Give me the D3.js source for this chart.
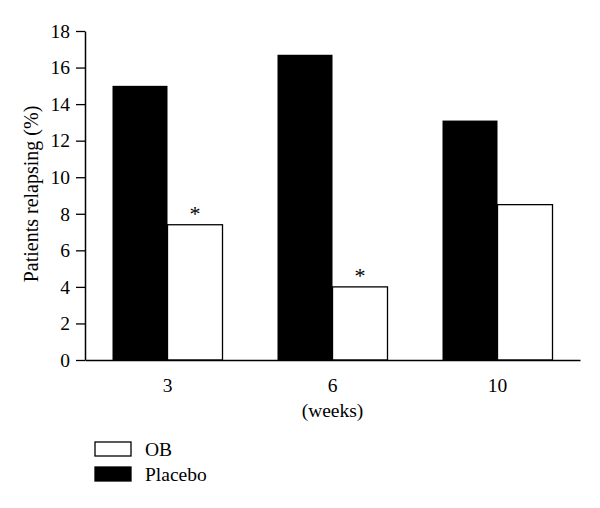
<!DOCTYPE html>
<html>
<head>
<meta charset="utf-8">
<script src="https://cdn.jsdelivr.net/npm/d3@7"></script>
<style>
  body { margin: 0; background: #fff; }
  text { font-family: "Liberation Serif", "DejaVu Serif", serif; fill: #000; }
</style>
</head>
<body>
<div id="chart"></div>
<script>
// data
var weeks = ["3", "6", "10"];
var placebo = [15.0, 16.7, 13.1];
var ob = [7.4, 4.0, 8.5];
var significant = [true, true, false];
var yTicks = [0, 2, 4, 6, 8, 10, 12, 14, 16, 18];
var seriesNames = ["OB", "Placebo"];

var width = 600, height = 508;
var margin = { top: 31, right: 20, bottom: 148, left: 85 };
var fontSize = '19.5px';

var svg = d3.select('#chart').append('svg')
    .attr('width', width)
    .attr('height', height);

var x = d3.scaleBand()
    .domain(weeks)
    .range([margin.left, 580])
    .paddingInner(0)
    .paddingOuter(0);

var y = d3.scaleLinear()
    .domain([0, 18])
    .range([height - margin.bottom, margin.top]);

var barW = 55;

// bars
var groups = svg.append('g').selectAll('g')
    .data(weeks)
    .enter().append('g');

groups.append('rect')
    .attr('x', function (d) { return x(d) + x.bandwidth() / 2 - barW; })
    .attr('y', function (d, i) { return y(placebo[i]); })
    .attr('width', barW)
    .attr('height', function (d, i) { return y(0) - y(placebo[i]); })
    .attr('fill', '#000');

groups.append('rect')
    .attr('x', function (d) { return x(d) + x.bandwidth() / 2; })
    .attr('y', function (d, i) { return y(ob[i]); })
    .attr('width', barW)
    .attr('height', function (d, i) { return y(0) - y(ob[i]); })
    .attr('fill', '#fff')
    .attr('stroke', '#000')
    .attr('stroke-width', 1.3);

// asterisks over significant OB bars
groups.filter(function (d, i) { return significant[i]; })
    .append('text')
    .attr('x', function (d) { return x(d) + x.bandwidth() / 2 + barW / 2; })
    .attr('y', function (d) { var i = weeks.indexOf(d); return y(ob[i]) - 4; })
    .attr('text-anchor', 'middle')
    .style('font-size', '22px')
    .text('*');

// y axis
var yAxis = svg.append('g')
    .attr('transform', 'translate(' + margin.left + ',0)')
    .call(d3.axisLeft(y).tickValues(yTicks).tickSize(9).tickPadding(6).tickSizeOuter(0));
yAxis.select('.domain').attr('stroke-width', 1.5);
yAxis.selectAll('.tick line').attr('stroke-width', 1.3);
yAxis.selectAll('text').style('font-size', fontSize).style('font-family', '"Liberation Serif", serif');

// x axis
var xAxis = svg.append('g')
    .attr('transform', 'translate(0,' + y(0) + ')')
    .call(d3.axisBottom(x).tickSize(0).tickPadding(18).tickSizeOuter(0));
xAxis.select('.domain').attr('stroke-width', 1.5);
xAxis.selectAll('text').style('font-size', fontSize).style('font-family', '"Liberation Serif", serif');

// axis titles
svg.append('text')
    .attr('transform', 'translate(38,194) rotate(-90)')
    .attr('text-anchor', 'middle')
    .style('font-size', '20px')
    .text('Patients relapsing (%)');

svg.append('text')
    .attr('x', x('6') + x.bandwidth() / 2)
    .attr('y', 417)
    .attr('text-anchor', 'middle')
    .style('font-size', fontSize)
    .text('(weeks)');

// legend
var legend = svg.append('g').selectAll('g')
    .data(seriesNames)
    .enter().append('g')
    .attr('transform', function (d, i) { return 'translate(95,' + (442 + i * 25) + ')'; });

legend.append('rect')
    .attr('width', 36)
    .attr('height', 14)
    .attr('fill', function (d) { return d === 'OB' ? '#fff' : '#000'; })
    .attr('stroke', '#000')
    .attr('stroke-width', 1.3);

legend.append('text')
    .attr('x', 50)
    .attr('y', 14)
    .style('font-size', fontSize)
    .text(function (d) { return d; });
</script>
</body>
</html>
